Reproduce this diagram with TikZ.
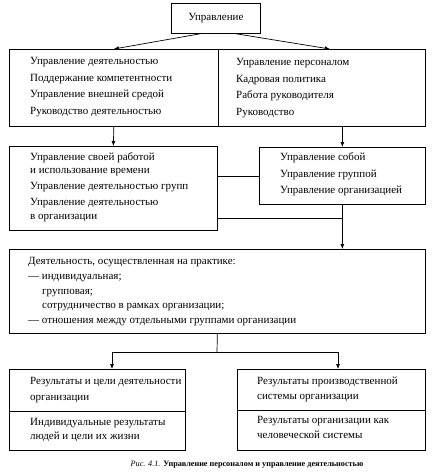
\documentclass[tikz,border=0pt]{standalone}
\usepackage{fontspec}
\setmainfont{Liberation Serif}
\usetikzlibrary{arrows.meta,calc}
\begin{document}
\begin{tikzpicture}[x=1pt,y=-1pt,
  box/.style={draw, line width=0.7pt, inner sep=0pt, anchor=north west},
  txt/.style={anchor=mid west, inner sep=0pt, font=\fontsize{11}{12}\selectfont},
  link/.style={line width=0.7pt},
  arr/.style={link, -{Latex[length=5pt,width=4pt]}}]
\useasboundingbox (0,0) rectangle (435,474);
% boxes
\node[box, minimum width=89pt, minimum height=30pt] (top) at (171,3) {};
\node[txt, anchor=center] (toptxt) at (top.center) {Управление};
\node[box, minimum width=209pt, minimum height=77pt] (b2l) at (9,49) {};
\node[box, minimum width=207pt, minimum height=77pt] (b2r) at (218,49) {};
\node[box, minimum width=208pt, minimum height=84pt] (b3l) at (9,146) {};
\node[box, minimum width=166pt, minimum height=57pt] (b3r) at (259,147) {};
\node[box, minimum width=416pt, minimum height=84pt] (b4) at (9,249) {};
\node[box, minimum width=176pt, minimum height=42pt] (b5la) at (9,369) {};
\node[box, minimum width=176pt, minimum height=39pt] (b5lb) at (9,411) {};
\node[box, minimum width=188pt, minimum height=41pt] (b5ra) at (237,369) {};
\node[box, minimum width=188pt, minimum height=40pt] (b5rb) at (237,410) {};
% texts box 2
\node[txt] (a1) at (30,62) {Управление деятельностью};
\node[txt] (a2) at (30,79) {Поддержание компетентности};
\node[txt] (a3) at (30,95) {Управление внешней средой};
\node[txt] (a4) at (30,112) {Руководство деятельностью};
\node[txt] (b1) at (236,63) {Управление персоналом};
\node[txt] (b2) at (236,80) {Кадровая политика};
\node[txt] (b3) at (236,96) {Работа руководителя};
\node[txt] (b4t) at (236,113) {Руководство};
% texts box 3
\node[txt] (c1) at (30,158) {Управление своей работой};
\node[txt] (c2) at (30,171) {и использование времени};
\node[txt] (c3) at (30,187) {Управление деятельностью групп};
\node[txt] (c4) at (30,203) {Управление деятельностью};
\node[txt] (c5) at (30,217) {в организации};
\node[txt] (d1) at (280,158) {Управление собой};
\node[txt] (d2) at (280,175) {Управление группой};
\node[txt] (d3) at (280,191) {Управление организацией};
% texts box 4
\node[txt] (e1) at (28,262) {Деятельность, осуществленная на практике:};
\node[txt] (e2) at (28,277) {— индивидуальная;};
\node[txt] (e3) at (42,292) {групповая;};
\node[txt] (e4) at (42,306) {сотрудничество в рамках организации;};
\node[txt] (e5) at (28,321) {— отношения между отдельными группами организации};
% texts box 5
\node[txt] (f1) at (30,382) {Результаты и цели деятельности};
\node[txt] (f2) at (30,398) {организации};
\node[txt] (f3) at (30,423) {Индивидуальные результаты};
\node[txt] (f4) at (30,437) {людей и цели их жизни};
\node[txt] (g1) at (257,382) {Результаты производственной};
\node[txt] (g2) at (257,397) {системы организации};
\node[txt] (g3) at (257,421) {Результаты организации как};
\node[txt] (g4) at (257,436) {человеческой системы};
% caption
\node[inner sep=0pt, font=\fontsize{8.2}{10}\selectfont] (cap) at (247,465)
  {\textit{Рис. 4.1.} \textbf{Управление персоналом и управление деятельностью}};
% connectors
\draw[arr] ($(top.south west)!0.33!(top.south east)$) -- ($(b2l.north)+(0,0)$);
\draw[arr] ($(top.south west)!0.72!(top.south east)$) -- ($(b2r.north)+(8,0)$);
\draw[arr] (b2l.south) -- (b3l.north);
\draw[arr] (b2r.south -| b3r.north) -- (b3r.north);
\draw[link] (b3r.west) -- (b3r.west -| b3l.east);
\coordinate (j1) at ($(b3l.south east)+(0,-12)$);
\draw[link] (j1) -- (j1 -| b3r.south);
\draw[arr] (b3r.south) -- (b3r.south |- b4.north);
\coordinate (s) at (217,352);
\draw[link] (b4.south) -- (s);
\draw[arr] (s) -| ($(b5la.north west)+(103,0)$);
\draw[arr] (s) -| ($(b5ra.north west)+(101,0)$);
\end{tikzpicture}
\end{document}
